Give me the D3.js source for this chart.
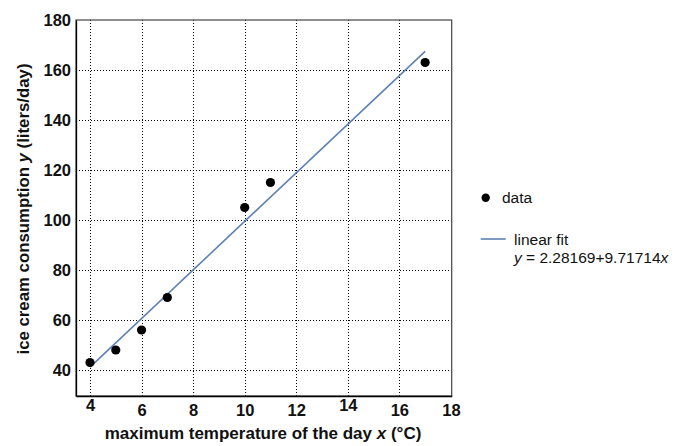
<!DOCTYPE html>
<html>
<head>
<meta charset="utf-8">
<script src="https://cdn.jsdelivr.net/npm/d3@7"></script>
<style>
  body { margin: 0; background: #fff; }
  svg text { font-family: "Liberation Sans", Arial, Helvetica, sans-serif; }
</style>
</head>
<body>
<svg id="chart"></svg>
<script>
// data
const temps = [4, 5, 6, 7, 10, 11, 17];
const consumption = [43, 48, 56, 69, 105, 115, 163];
const fitCoef = [2.28169, 9.71714];
const fitRange = [4, 17];
const xTicks = [4, 6, 8, 10, 12, 14, 16, 18];
const yTicks = [40, 60, 80, 100, 120, 140, 160, 180];

const width = 677, height = 446;
const margin = { top: 20, right: 225, bottom: 50, left: 76 };

const svg = d3.select('#chart')
    .attr('width', width)
    .attr('height', height);

const xScale = d3.scaleLinear().domain([3.457, 18.03]).range([margin.left, 451.7]);
const yScale = d3.scaleLinear().domain([29.6, 180]).range([396, margin.top]);

const blue = '#5e81b5';

// dotted grid
svg.append('g')
    .selectAll('line')
    .data(xTicks.filter(d => d < 18))
    .join('line')
    .attr('x1', d => Math.round(xScale(d)) + 0.5).attr('x2', d => Math.round(xScale(d)) + 0.5)
    .attr('y1', yScale.range()[0]).attr('y2', yScale.range()[1])
    .attr('stroke', '#000')
    .attr('stroke-width', 1)
    .attr('stroke-dasharray', '1,2');

svg.append('g')
    .selectAll('line')
    .data(yTicks.filter(d => d < 180))
    .join('line')
    .attr('y1', d => Math.round(yScale(d)) + 0.5).attr('y2', d => Math.round(yScale(d)) + 0.5)
    .attr('x1', xScale.range()[0]).attr('x2', xScale.range()[1])
    .attr('stroke', '#000')
    .attr('stroke-width', 1)
    .attr('stroke-dasharray', '1,2');

// frame
svg.append('rect')
    .attr('x', xScale.range()[0])
    .attr('y', yScale.range()[1])
    .attr('width', xScale.range()[1] - xScale.range()[0])
    .attr('height', yScale.range()[0] - yScale.range()[1])
    .attr('fill', 'none')
    .attr('stroke', '#444')
    .attr('stroke-width', 1.2);

// axes
const xAxis = d3.axisBottom(xScale).tickValues(xTicks).tickSize(0).tickPadding(8);
const yAxis = d3.axisLeft(yScale).tickValues(yTicks).tickSize(0).tickPadding(5);

const xAxisG = svg.append('g')
    .attr('transform', `translate(0,${yScale.range()[0]})`)
    .call(xAxis);
const yAxisG = svg.append('g')
    .attr('transform', `translate(${xScale.range()[0]},0)`)
    .call(yAxis);

[xAxisG, yAxisG].forEach(g => {
    g.select('.domain').attr('stroke', '#000').attr('stroke-width', 1.3);
    g.selectAll('text')
        .attr('font-family', '"Liberation Sans", Arial, sans-serif')
        .attr('font-size', 16.5)
        .attr('font-weight', 'bold')
        .attr('fill', '#111');
});
// small vertical jitter of the x labels as in the original
xAxisG.selectAll('text').attr('dy', d => d === 4 ? '0.45em' : d === 14 ? '0.4em' : '0.71em');

// axis titles
const xTitle = svg.append('text')
    .attr('x', 263)
    .attr('y', 439)
    .attr('text-anchor', 'middle')
    .attr('font-size', 17)
    .attr('font-weight', 'bold')
    .attr('fill', '#111');
xTitle.append('tspan').text('maximum temperature of the day ');
xTitle.append('tspan').attr('font-style', 'italic').text('x');
xTitle.append('tspan').text(' (°C)');

const yTitle = svg.append('text')
    .attr('transform', `translate(29,209) rotate(-90)`)
    .attr('text-anchor', 'middle')
    .attr('font-size', 16.8)
    .attr('font-weight', 'bold')
    .attr('fill', '#111');
yTitle.append('tspan').text('ice cream consumption ');
yTitle.append('tspan').attr('font-style', 'italic').text('y');
yTitle.append('tspan').text(' (liters/day)');

// fit line
svg.append('line')
    .attr('x1', xScale(fitRange[0]))
    .attr('y1', yScale(fitCoef[0] + fitCoef[1] * fitRange[0]))
    .attr('x2', xScale(fitRange[1]))
    .attr('y2', yScale(fitCoef[0] + fitCoef[1] * fitRange[1]))
    .attr('stroke', blue)
    .attr('stroke-width', 1.6);

// data points
svg.append('g')
    .selectAll('circle')
    .data(temps.map((t, i) => ({ t, c: consumption[i] })))
    .join('circle')
    .attr('cx', d => xScale(d.t))
    .attr('cy', d => yScale(d.c))
    .attr('r', 4.6)
    .attr('fill', '#000');

// legend
const legend = svg.append('g');
legend.append('circle').attr('cx', 485.7).attr('cy', 197.7).attr('r', 4.2).attr('fill', '#000');
legend.append('text').attr('x', 502).attr('y', 203).attr('font-size', 15.5).attr('fill', '#111').text('data');
legend.append('line')
    .attr('x1', 480.7).attr('x2', 505.7).attr('y1', 239).attr('y2', 239)
    .attr('stroke', blue).attr('stroke-width', 1.6);
legend.append('text').attr('x', 514).attr('y', 244.5).attr('font-size', 15.5).attr('fill', '#111').text('linear fit');
const eq = legend.append('text').attr('x', 514).attr('y', 263).attr('font-size', 15.5).attr('fill', '#111');
eq.append('tspan').attr('font-style', 'italic').text('y');
eq.append('tspan').text(` = ${fitCoef[0]}+${fitCoef[1]}`);
eq.append('tspan').attr('font-style', 'italic').text('x');
</script>
</body>
</html>
